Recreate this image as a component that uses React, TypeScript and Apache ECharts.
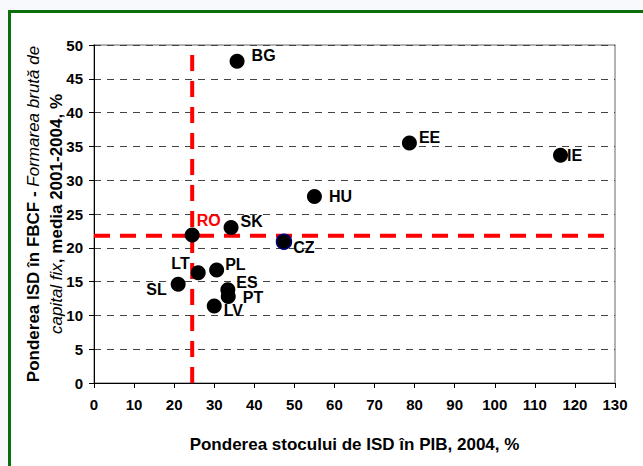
import React, { useEffect, useRef } from "react";
import * as echarts from "echarts";

const countries = ["BG", "EE", "IE", "HU", "SK", "RO", "CZ", "LT", "PL", "SL", "ES", "PT", "LV"];
const stockShare = [35.7, 78.7, 116.4, 55.0, 34.2, 24.5, 47.4, 26.0, 30.6, 21.0, 33.4, 33.5, 30.0];
const fbcfShare = [47.6, 35.5, 33.7, 27.6, 23.0, 21.9, 20.9, 16.3, 16.7, 14.6, 13.8, 12.8, 11.4];
const roRefX = 24.5;
const roRefY = 21.8;
const xTitle = "Ponderea stocului de ISD în PIB, 2004, %";

const labelPlacement: Record<string, { position: string; offset: number[] }> = {
  BG: { position: "right", offset: [2, -6] },
  EE: { position: "right", offset: [-3, -6] },
  IE: { position: "right", offset: [-6, 0] },
  HU: { position: "right", offset: [2, 0] },
  SK: { position: "right", offset: [-3, -6] },
  RO: { position: "right", offset: [-8, -14] },
  CZ: { position: "right", offset: [-4, 6] },
  LT: { position: "left", offset: [4, -9] },
  PL: { position: "right", offset: [-4, -6] },
  SL: { position: "left", offset: [1, 5] },
  ES: { position: "right", offset: [-4, -7] },
  PT: { position: "right", offset: [2, 1] },
  LV: { position: "right", offset: [-3, 5] },
};

const FONT = "'Liberation Sans', Arial, sans-serif";

export default function App() {
  const ref = useRef<HTMLDivElement>(null);
  useEffect(() => {
    if (!ref.current) return;
    const chart = echarts.init(ref.current, null, { renderer: "svg" });
    const points = countries.map((c, i) => {
      const lp = labelPlacement[c];
      const isRO = c === "RO";
      const isCZ = c === "CZ";
      return {
        name: c,
        value: [stockShare[i], fbcfShare[i]],
        itemStyle: isCZ
          ? { color: "#000", borderColor: "#000080", borderWidth: 1.5, opacity: 1 }
          : { color: "#000", opacity: 1 },
        label: {
          show: true,
          position: lp.position,
          offset: lp.offset,
          formatter: c,
          color: isRO ? "#ff0000" : "#000",
          fontWeight: "bold",
          fontSize: 16,
          fontFamily: FONT,
        },
      };
    });
    chart.setOption({
      animation: false,
      backgroundColor: "transparent",
      grid: {
        left: 94,
        right: 28,
        top: 45,
        bottom: 83,
        show: true,
        borderColor: "#999",
        borderWidth: 1.5,
        backgroundColor: "transparent",
      },
      xAxis: {
        type: "value",
        min: 0,
        max: 130,
        interval: 10,
        name: xTitle,
        nameLocation: "middle",
        nameGap: 53,
        nameMoveOverlap: false,
        nameTextStyle: { fontSize: 17, fontWeight: "bold", color: "#000", fontFamily: FONT },
        axisLine: { show: true, lineStyle: { color: "#000", width: 1 } },
        axisTick: { show: true, length: 5, lineStyle: { color: "#000" } },
        axisLabel: { fontSize: 15, fontWeight: "bold", color: "#000", margin: 14, fontFamily: FONT },
        splitLine: { show: false },
      },
      yAxis: {
        type: "value",
        min: 0,
        max: 50,
        interval: 5,
        name:
          "{b|Ponderea ISD în FBCF - }{i|Formarea brută de}\n{i|capital fix}{b|, media 2001-2004, %}",
        nameLocation: "middle",
        nameGap: 26,
        nameMoveOverlap: false,
        nameTextStyle: {
          fontSize: 17,
          color: "#000",
          fontFamily: FONT,
          lineHeight: 23,
          rich: {
            b: { fontSize: 17, fontWeight: "bold", color: "#000", fontFamily: FONT, lineHeight: 23 },
            i: { fontSize: 17, fontStyle: "italic", color: "#000", fontFamily: FONT, lineHeight: 23 },
          },
        },
        axisLine: { show: true, lineStyle: { color: "#000", width: 1 } },
        axisTick: { show: true, length: 5, lineStyle: { color: "#000" } },
        axisLabel: { fontSize: 15, fontWeight: "bold", color: "#000", margin: 11, fontFamily: FONT },
        splitLine: { show: true, lineStyle: { color: "#444", type: [7, 6], width: 1 } },
      },
      series: [
        {
          type: "line",
          data: [
            [roRefX, 0],
            [roRefX, 50],
          ],
          symbol: "none",
          lineStyle: { color: "#ff0000", width: 4, type: [16, 10] },
          z: 2,
          silent: true,
        },
        {
          type: "line",
          data: [
            [0, roRefY],
            [128, roRefY],
          ],
          symbol: "none",
          lineStyle: { color: "#ff0000", width: 4, type: [16, 10] },
          z: 2,
          silent: true,
        },
        {
          type: "scatter",
          symbol: "circle",
          symbolSize: 15,
          data: points,
          z: 3,
        },
      ],
    });
    return () => chart.dispose();
  }, []);

  return (
    <div
      style={{
        position: "absolute",
        left: 0,
        top: 0,
        width: 643,
        height: 466,
        background: "#f7f9fc",
        overflow: "hidden",
      }}
    >
      <div
        style={{
          position: "absolute",
          left: 8,
          top: 10,
          width: 700,
          height: 500,
          borderTop: "3px solid #0a6e0a",
          borderLeft: "3px solid #0a6e0a",
          background: "#fff",
        }}
      />
      <div ref={ref} style={{ position: "absolute", left: 0, top: 0, width: 643, height: 466 }} />
    </div>
  );
}
